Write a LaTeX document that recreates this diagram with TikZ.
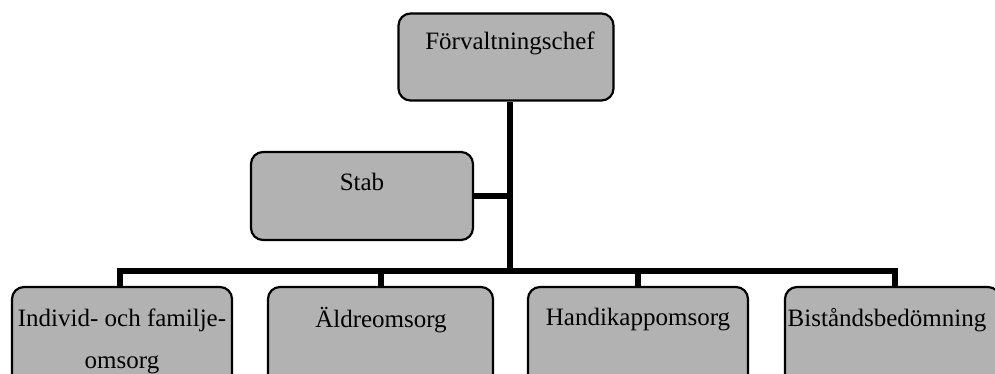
\documentclass[tikz,border=0pt]{standalone}
\usepackage{fontspec}
\setmainfont{Liberation Serif}
\begin{document}
\begin{tikzpicture}[x=1pt,y=-1pt,
  box/.style={draw,line width=2.2pt,rounded corners=12pt,fill=black!30,inner sep=0pt},
  tree/.style={line width=6pt,line join=miter},
  lbl/.style={font=\fontsize{25}{42}\selectfont,inner sep=0pt,align=center}]
\useasboundingbox (0,0) rectangle (995,374);
\clip (0,0) rectangle (995,374);
% boxes
\node[box,minimum width=215pt,minimum height=87pt] (chef) at (506,57) {};
\node[box,minimum width=222pt,minimum height=88pt] (stab) at (362,196) {};
\node[box,minimum width=220pt,minimum height=113pt] (b1) at (122,343.5) {};
\node[box,minimum width=225pt,minimum height=113pt] (b2) at (380.5,343.5) {};
\node[box,minimum width=220pt,minimum height=113pt] (b3) at (638,343.5) {};
\node[box,minimum width=215pt,minimum height=113pt] (b4) at (892.5,343.5) {};
% labels
\node[lbl] (t0) at (510,43) {Förvaltningschef};
\node[lbl] (t1) at (362,182) {Stab};
\node[lbl] (t2) at (122,341) {Individ- och familje-\\omsorg};
\node[lbl] (t3) at (381,320) {Äldreomsorg};
\node[lbl] (t4) at (638,320) {Handikappomsorg};
\node[lbl] (t5) at (887,320) {Biståndsbedömning};
% connectors
\coordinate (trunk) at (510,271);
\coordinate (busL) at (120,271);
\coordinate (busR) at (895,271);
\draw[tree] (chef.south -| trunk) -- (trunk);
\draw[tree] (stab.east) -- (stab.east -| trunk);
\draw[tree] (b1.north -| busL) -- (busL) -- (busR) -- (b4.north -| busR);
\draw[tree] (b2.north) -- (b2.north |- busL);
\draw[tree] (b3.north) -- (b3.north |- busL);
\end{tikzpicture}
\end{document}
